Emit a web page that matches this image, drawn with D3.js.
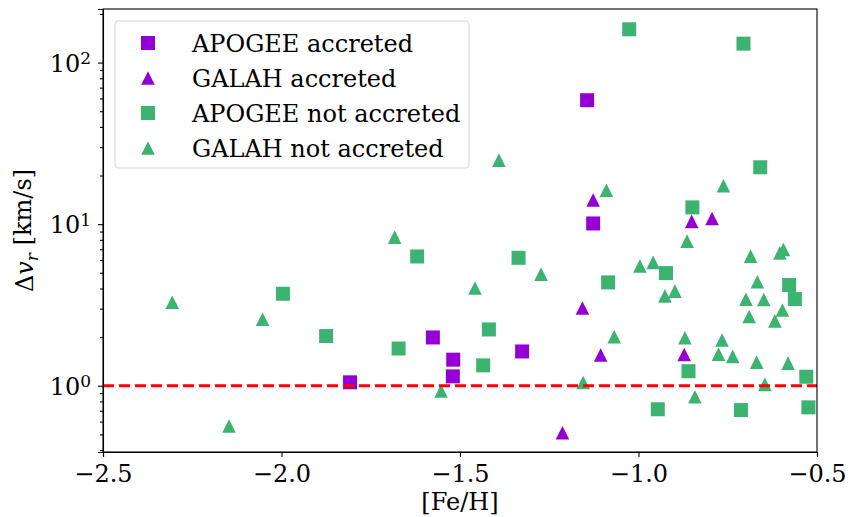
<!DOCTYPE html>
<html>
<head>
<meta charset="utf-8">
<script src="https://cdn.jsdelivr.net/npm/d3@7"></script>
<style>
  body { margin: 0; background: #fff; }
  svg { display: block; font-family: "DejaVu Serif", serif; }
</style>
</head>
<body>
<div id="chart"></div>
<script>
// data: [Fe/H], delta v_r (km/s)
var apogeeAccFeH = [-1.808, -1.576, -1.519, -1.520, -1.326, -1.144, -1.127];
var apogeeAccDv  = [1.05, 1.99, 1.45, 1.143, 1.63, 58.5, 10.1];

var galahAccFeH = [-1.213, -1.157, -1.127, -1.106, -0.851, -0.872, -0.794];
var galahAccDv  = [0.512, 3.03, 14.1, 1.55, 10.4, 1.56, 10.85];

var apogeeNotFeH = [-1.026, -0.706, -0.659, -0.849, -1.996, -1.875, -1.620, -1.672, -1.336, -1.419,
                    -1.435, -1.085, -0.923, -0.860, -0.946, -0.713, -0.578, -0.562, -0.530, -0.524];
var apogeeNotDv  = [160.7, 131, 22.5, 12.7, 3.71, 2.03, 6.31, 1.70, 6.19, 2.23,
                    1.337, 4.36, 4.98, 1.23, 0.715, 0.707, 4.20, 3.44, 1.137, 0.735];

var galahNotFeH = [-2.306, -2.053, -2.147, -1.683, -1.553, -1.458, -1.391, -1.273, -1.155, -1.068,
                   -1.090, -0.996, -0.959, -0.926, -0.898, -0.870, -0.864, -0.842, -0.762, -0.766,
                   -0.776, -0.736, -0.686, -0.699, -0.690, -0.667, -0.649, -0.669, -0.646, -0.604,
                   -0.594, -0.597, -0.618, -0.581];
var galahNotDv  = [3.29, 2.58, 0.563, 8.31, 0.927, 4.03, 24.9, 4.91, 1.047, 2.01,
                   16.2, 5.51, 5.80, 3.60, 3.85, 1.98, 7.85, 0.855, 17.3, 1.92,
                   1.57, 1.52, 6.34, 3.43, 2.68, 4.40, 3.42, 1.40, 1.02, 6.64,
                   6.97, 2.94, 2.52, 1.38];

var xTicks = [-2.5, -2.0, -1.5, -1.0, -0.5];
var yTicks = [1, 10, 100];
var yDomain = [0.389, 214.6];
var xDomain = [-2.5, -0.5];
var threshold = 1;

var seriesNames = ["APOGEE accreted", "GALAH accreted", "APOGEE not accreted", "GALAH not accreted"];
var purple = "#9400d3", green = "#3cb371";

var margin = {top: 9, right: 33, bottom: 65, left: 103},
    width = 850 - margin.left - margin.right,
    height = 517 - margin.top - margin.bottom;

var svg = d3.select("#chart").append("svg")
    .attr("width", 850).attr("height", 517)
  .append("g")
    .attr("transform", "translate(" + margin.left + "," + margin.top + ")");

var x = d3.scaleLinear().domain(xDomain).range([0, width]);
var y = d3.scaleLog().domain(yDomain).range([height, 0]);

function zip(a, b) { return a.map(function(v, i) { return {x: v, y: b[i]}; }); }

var series = [
  {name: seriesNames[2], color: green, shape: d3.symbolSquare, data: zip(apogeeNotFeH, apogeeNotDv)},
  {name: seriesNames[3], color: green, shape: d3.symbolTriangle, data: zip(galahNotFeH, galahNotDv)},
  {name: seriesNames[0], color: purple, shape: d3.symbolSquare, data: zip(apogeeAccFeH, apogeeAccDv)},
  {name: seriesNames[1], color: purple, shape: d3.symbolTriangle, data: zip(galahAccFeH, galahAccDv)}
];

// marker paths: square side 14, triangle base/height ~13.5 centred on box
function marker(shape) {
  if (shape === d3.symbolSquare) return d3.symbol().type(d3.symbolSquare).size(14 * 14)();
  var s = 6.8;
  return "M0," + (-s) + "L" + s + "," + s + "L" + (-s) + "," + s + "Z";
}

series.forEach(function(s) {
  svg.selectAll(null)
    .data(s.data)
    .enter()
    .append("path")
    .attr("d", marker(s.shape))
    .attr("transform", function(d) { return "translate(" + x(d.x) + "," + y(d.y) + ")"; })
    .style("fill", s.color);
});

// threshold line
svg.append("line")
  .attr("x1", 0).attr("x2", width)
  .attr("y1", y(threshold)).attr("y2", y(threshold))
  .style("stroke", "#ff0000")
  .style("stroke-width", 3)
  .style("stroke-dasharray", "11,5");

// axes
var xAxis = d3.axisBottom(x).tickValues(xTicks).tickSize(5).tickPadding(8)
  .tickFormat(function(d) { return d3.format(".1f")(d).replace("-", "\u2212"); });
var gx = svg.append("g")
  .attr("transform", "translate(0," + height + ")")
  .call(xAxis)
  .attr("font-family", null).attr("font-size", null);
gx.selectAll("text").style("font-size", "24px").style("fill", "#000");

var minor = [];
[0.1, 1, 10, 100].forEach(function(p) {
  for (var k = 2; k <= 9; k++) {
    var v = k * p;
    if (v >= yDomain[0] && v <= yDomain[1]) minor.push(v);
  }
});
svg.append("g").call(d3.axisLeft(y).tickValues(minor).tickSize(3).tickFormat(""))
  .select(".domain").remove();

var gy = svg.append("g")
  .call(d3.axisLeft(y).tickValues(yTicks).tickSize(5).tickPadding(6).tickFormat(""))
  .attr("font-family", null).attr("font-size", null);
gy.selectAll(".tick").append("text")
  .attr("x", -12).attr("dy", "0.36em")
  .style("text-anchor", "end")
  .style("font-size", "24px")
  .style("fill", "#000")
  .each(function(d) {
    var t = d3.select(this);
    t.append("tspan").text("10");
    t.append("tspan").attr("dy", "-0.45em").style("font-size", "17px").text(Math.round(Math.log10(d)));
  });

svg.selectAll(".domain").style("stroke", "#000").style("stroke-width", 1.1);
svg.selectAll(".tick line").style("stroke", "#000").style("stroke-width", 1.1);

// frame (top and right spines)
svg.append("rect")
  .attr("width", width).attr("height", height)
  .style("fill", "none").style("stroke", "#000").style("stroke-width", 1.1);

// axis labels
svg.append("text")
  .attr("x", width / 2).attr("y", height + 58)
  .style("text-anchor", "middle")
  .style("font-size", "24px")
  .text("[Fe/H]");

var yl = svg.append("text")
  .attr("transform", "translate(" + (-70) + "," + (height / 2) + ") rotate(-90)")
  .style("text-anchor", "middle")
  .style("font-size", "24px");
yl.append("tspan").text("\u0394");
yl.append("tspan").style("font-style", "italic").text("v");
yl.append("tspan").attr("dy", "0.3em").style("font-size", "17px").style("font-style", "italic").text("r");
yl.append("tspan").attr("dy", "-0.3em").text(" [km/s]");

// legend
var legendOrder = [series[2], series[3], series[0], series[1]];
var lg = svg.append("g").attr("transform", "translate(12,12)");
lg.append("rect")
  .attr("width", 354).attr("height", 147)
  .attr("rx", 4)
  .style("fill", "#fff").style("fill-opacity", 0.8)
  .style("stroke", "#d6d6d6").style("stroke-width", 1.1);
lg.selectAll(".item")
  .data(legendOrder)
  .enter()
  .append("g")
  .attr("transform", function(d, i) { return "translate(33," + (22 + i * 35) + ")"; })
  .each(function(d) {
    var g = d3.select(this);
    g.append("path").attr("d", marker(d.shape)).style("fill", d.color);
    g.append("text")
      .attr("x", 44).attr("dy", "0.36em")
      .style("font-size", "24px")
      .text(d.name);
  });
</script>
</body>
</html>
